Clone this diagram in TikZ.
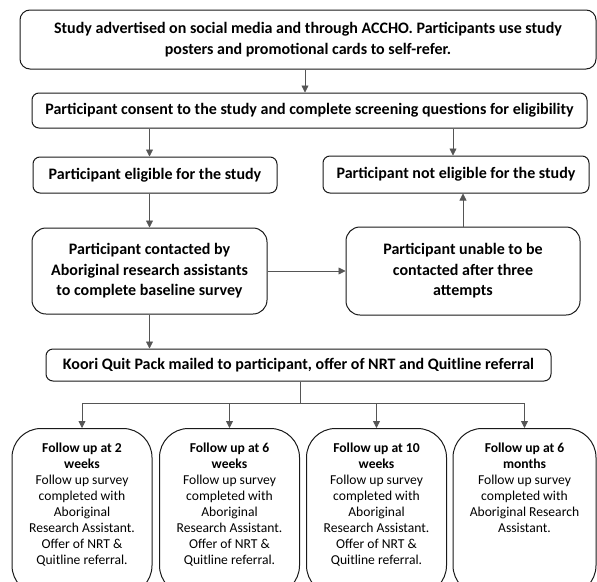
\documentclass[tikz,border=0pt]{standalone}
\usepackage{fontspec}
\setmainfont{Carlito}
\usepackage{tikz}
\usetikzlibrary{arrows.meta,calc,positioning}
\definecolor{edge}{HTML}{1A1A1A}
\definecolor{link}{HTML}{555555}

\begin{document}
\begin{tikzpicture}[x=1pt,y=-1pt,
    box/.style={draw=edge,line width=1pt,rounded corners=7pt,inner sep=0pt,
      align=center,font=\fontsize{16}{20.5}\selectfont\bfseries},
    bigbox/.style={box,rounded corners=14pt},
    fubox/.style={draw=edge,line width=1pt,rounded corners=29pt,anchor=north,
      minimum width=140pt,minimum height=166pt,inner sep=0pt},
    futext/.style={anchor=north,inner sep=0pt,align=center,
      font=\fontsize{13.6}{15.9}\selectfont},
    link/.style={draw=link,line width=0.8pt,-{Triangle[length=7pt,width=7pt]}}]
  \useasboundingbox (0,0) rectangle (597,581);
  \clip (0,0) rectangle (597,581);
  \fill[white] (0,0) rectangle (597,581);

  \node[box,rounded corners=10pt,minimum width=576pt,minimum height=59pt] (advert) at (308,39.5)
    {Study advertised on social media and through ACCHO. Participants use study\\
     posters and promotional cards to self-refer.};
  \node[box,minimum width=555pt,minimum height=35pt] (consent) at (309.5,110.5)
    {Participant consent to the study and complete screening questions for eligibility};
  \node[box,minimum width=244pt,minimum height=36pt] (eligible) at (155,175)
    {Participant eligible for the study};
  \node[box,minimum width=266pt,minimum height=37pt] (noteligible) at (456,174.5)
    {Participant not eligible for the study};
  \node[bigbox,minimum width=235pt,minimum height=86pt] (contacted) at (149.5,271)
    {Participant contacted by\\Aboriginal research assistants\\to complete baseline survey};
  \node[bigbox,minimum width=234pt,minimum height=88pt] (unable) at (463,271)
    {Participant unable to be\\contacted after three\\attempts};
  \node[box,minimum width=505pt,minimum height=32pt] (mailed) at (298.5,365)
    {Koori Quit Pack mailed to participant, offer of NRT and Quitline referral};

  % follow up boxes
  \node[fubox] (fuA) at (82,428) {};
  \node[fubox] (fuB) at (229.5,428) {};
  \node[fubox] (fuC) at (376.5,428) {};
  \node[fubox,minimum width=143pt] (fuD) at (524.5,428) {};
  \node[futext] (fuAtext) at ([yshift=-15pt]fuA.north)
    {\textbf{Follow up at 2}\\\textbf{weeks}\\Follow up survey\\completed with\\Aboriginal\\
     Research Assistant.\\Offer of NRT \&\\Quitline referral.};
  \node[futext] (fuBtext) at ([yshift=-15pt]fuB.north)
    {\textbf{Follow up at 6}\\\textbf{weeks}\\Follow up survey\\completed with\\Aboriginal\\
     Research Assistant.\\Offer of NRT \&\\Quitline referral.};
  \node[futext] (fuCtext) at ([yshift=-15pt]fuC.north)
    {\textbf{Follow up at 10}\\\textbf{weeks}\\Follow up survey\\completed with\\Aboriginal\\
     Research Assistant.\\Offer of NRT \&\\Quitline referral.};
  \node[futext] (fuDtext) at ([yshift=-15pt]fuD.north)
    {\textbf{Follow up at 6}\\\textbf{months}\\Follow up survey\\completed with\\
     Aboriginal Research\\Assistant.};

  \draw[link] (advert.south -| 305,0) -- (consent.north -| 305,0);
  \draw[link] (consent.south -| contacted) -- (eligible.north -| contacted);
  \draw[link] (consent.south -| 453,0) -- (noteligible.north -| 453,0);
  \draw[link] (eligible.south -| contacted) -- (contacted.north);
  \draw[link] (contacted.east) -- (unable.west);
  \draw[link] (unable.north) -- (unable.north |- noteligible.south);
  \draw[link] (contacted.south) -- (mailed.north -| contacted);

  % branch to the follow ups
  \coordinate (bus) at (300,403);
  \draw[draw=link,line width=0.8pt] (mailed.south -| bus) -- (bus);
  \draw[draw=link,line width=0.8pt] (bus -| fuA) -- (bus -| fuD);
  \draw[link] (bus -| fuA) -- (fuA.north);
  \draw[link] (bus -| fuB) -- (fuB.north);
  \draw[link] (bus -| fuC) -- (fuC.north);
  \draw[link] (bus -| fuD) -- (fuD.north);
\end{tikzpicture}
\end{document}
